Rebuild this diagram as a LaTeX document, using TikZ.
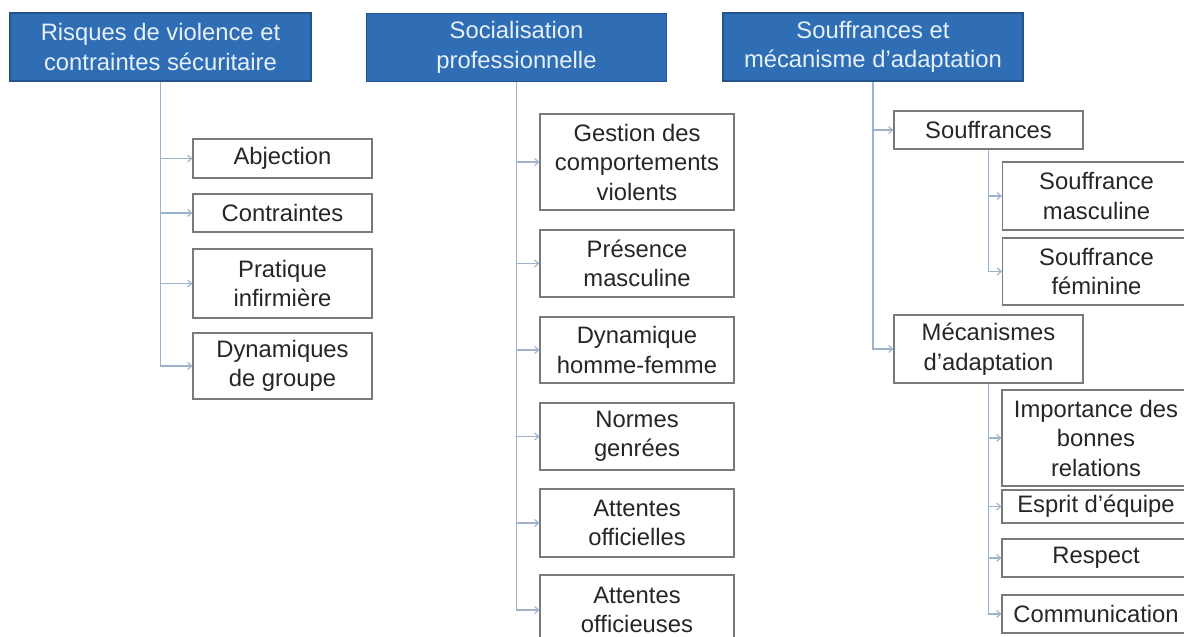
\documentclass[tikz,border=0pt]{standalone}
\usepackage{fontspec}
\setmainfont{Liberation Sans}
\usetikzlibrary{arrows.meta}
\definecolor{hdrfill}{HTML}{2F6EB5}
\definecolor{hdrdraw}{HTML}{24538A}
\definecolor{hdrtext}{HTML}{E6F0FA}
\definecolor{boxdraw}{HTML}{7A7A7A}
\definecolor{conncol}{HTML}{9DB3CB}
\definecolor{txt}{HTML}{262626}
\begin{document}
\begin{tikzpicture}[x=1pt,y=-1pt,
  every node/.style={font=\fontsize{23.8}{29.5}\selectfont, align=center, inner sep=0pt},
  hdr/.style={draw=hdrdraw, line width=1.2pt, fill=hdrfill, text=hdrtext, minimum width=300pt, minimum height=68pt},
  leaf/.style={draw=boxdraw, line width=1.2pt, fill=white, text=txt},
  conn/.style={draw=conncol, line width=1.1pt, -{Straight Barb[length=4pt,width=7pt]}}]
\useasboundingbox (0,0) rectangle (1184,637);
\fill[white] (0,0) rectangle (1184,637);
% headers
\node[hdr, minimum width=301pt] (h1) at (160.5,47) {Risques de violence et\\contraintes sécuritaire};
\node[hdr] (h2) at (516.5,47.5) {Socialisation\\professionnelle};
\node[hdr] (h3) at (873,47) {Souffrances et\\mécanisme d’adaptation};
% column 1
\begin{scope}[every node/.append style={leaf, minimum width=179pt}]
\node[minimum height=39pt] (abj) at (282.5,158.5) {Abjection};
\node[minimum height=38pt] (con) at (282.5,213) {Contraintes};
\node[minimum height=69pt] (pra) at (282.5,283.5) {Pratique\\infirmière};
\node[minimum height=66pt] (dyn) at (282.5,366) {Dynamiques\\de groupe};
\end{scope}
% column 2
\begin{scope}[every node/.append style={leaf, minimum width=194pt}]
\node[minimum height=96pt] (ges) at (637,162) {Gestion des\\comportements\\violents};
\node[minimum height=67pt] (pre) at (637,263.5) {Présence\\masculine};
\node[minimum height=66pt] (dhf) at (637,350) {Dynamique\\homme-femme};
\node[minimum height=67pt] (nor) at (637,436.5) {Normes\\genrées};
\node[minimum height=68pt] (ao) at (637,523) {Attentes\\officielles};
\node[minimum height=70pt] (aof) at (637,610) {Attentes\\officieuses};
\end{scope}
% column 3
\begin{scope}[every node/.append style={leaf, minimum width=189pt}]
\node[minimum height=38pt] (souf) at (988.5,130) {Souffrances};
\node[minimum height=68pt] (mec) at (988.5,349) {Mécanismes\\d’adaptation};
\end{scope}
\begin{scope}[every node/.append style={leaf, minimum width=188pt}]
\node[minimum height=68pt] (sm) at (1096.5,196) {Souffrance\\masculine};
\node[minimum height=67pt] (sf) at (1096.5,271.5) {Souffrance\\féminine};
\node[minimum height=96pt] (imp) at (1096,438) {Importance des\\bonnes\\relations};
\node[minimum height=33pt] (esp) at (1096,506.5) {Esprit d’équipe};
\node[minimum height=38pt] (res) at (1096,558) {Respect};
\node[minimum height=38pt] (com) at (1096,614) {Communication};
\end{scope}
% connectors
\foreach \c in {abj,con,pra,dyn} \draw[conn] (h1.south) |- (\c.west);
\foreach \c in {ges,pre,dhf,nor,ao,aof} \draw[conn] (h2.south) |- (\c.west);
\foreach \c in {souf,mec} \draw[conn] (h3.south) |- (\c.west);
\foreach \c in {sm,sf} \draw[conn] (souf.south) |- (\c.west);
\foreach \c in {imp,esp,res,com} \draw[conn] (mec.south) |- (\c.west);
\end{tikzpicture}
\end{document}
